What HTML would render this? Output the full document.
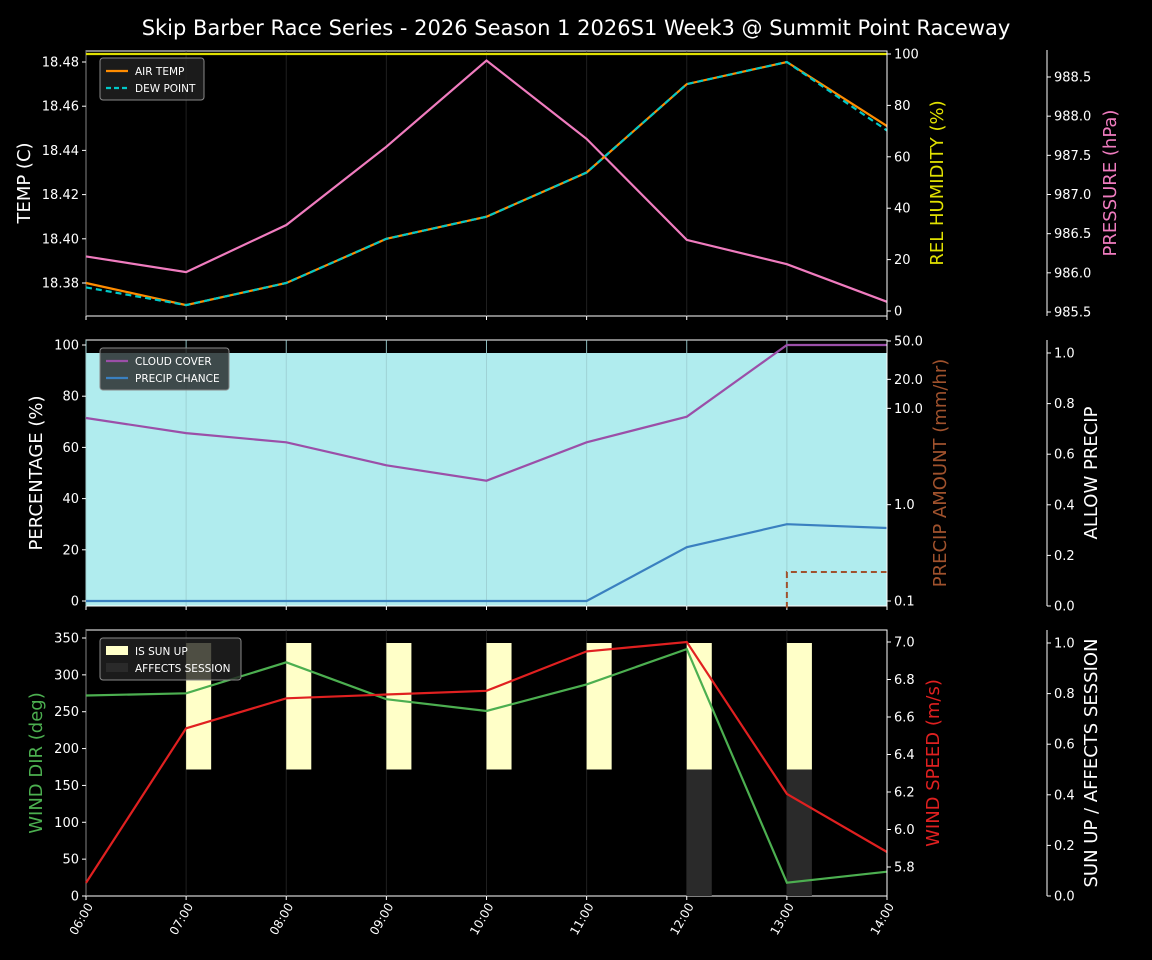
<!DOCTYPE html>
<html><head><meta charset="utf-8"><style>
body{margin:0;background:#000;}
svg{display:block;font-family:"DejaVu Sans","Liberation Sans",sans-serif;}
</style></head><body>
<svg id="c" width="1152" height="960" viewBox="0 0 1152 960"></svg>
<script>
const hours=["06:00","07:00","08:00","09:00","10:00","11:00","12:00","13:00","14:00"];
const airTemp=[18.38,18.37,18.38,18.40,18.41,18.43,18.47,18.48,18.451];
const dewPoint=[18.378,18.37,18.38,18.40,18.41,18.43,18.47,18.48,18.449];
const humidity=[100,100,100,100,100,100,100,100,100];
const pressure=[986.21,986.01,986.61,987.61,988.71,987.71,986.42,986.11,985.63];
const cloudCover=[71.5,65.6,62,53,47,62,72,100,100];
const precipChance=[0,0,0,0,0,0,21,30,28.5];
const precipAmount=[0,0,0,0,0,0,0,0.2,0.2];
const allowPrecip=[1,1,1,1,1,1,1,1,1];
const windDir=[272,275,317,267,251,287,335,18,33];
const windSpeed=[5.715,6.54,6.70,6.72,6.74,6.95,7.0,6.19,5.88];
const sunUp=[0,1,1,1,1,1,1,1,0];
const affects=[0,0,0,0,0,0,1,1,0];
const tempTicks=[18.38,18.40,18.42,18.44,18.46,18.48];
const humTicks=[0,20,40,60,80,100];
const presTicks=[985.5,986.0,986.5,987.0,987.5,988.0,988.5];
const pctTicks=[0,20,40,60,80,100];
const amtTicks=[0.1,1.0,10.0,20.0,50.0];
const unitTicks=[0,0.2,0.4,0.6,0.8,1.0];
const dirTicks=[0,50,100,150,200,250,300,350];
const spdTicks=[5.8,6.0,6.2,6.4,6.6,6.8,7.0];

const S=document.getElementById('c');const NS='http://www.w3.org/2000/svg';
function el(t,a,p){const e=document.createElementNS(NS,t);for(const k in a)e.setAttribute(k,a[k]);(p||S).appendChild(e);return e;}
function txt(x,y,s,a){const e=el('text',Object.assign({x:x,y:y,fill:'#fff','font-size':13},a));e.textContent=s;return e;}
const X0=86,X1=887;const x=i=>X0+(X1-X0)*i/(hours.length-1);
function lin(d0,d1,p0,p1){return v=>p0+(v-d0)*(p1-p0)/(d1-d0);}
function logs(d0,d1,p0,p1){return v=>p0+(Math.log10(v)-Math.log10(d0))*(p1-p0)/(Math.log10(d1)-Math.log10(d0));}
function line(vals,sc,color,name,dash,w){let d='';vals.forEach((v,i)=>{d+=(i?'L':'M')+x(i).toFixed(1)+','+sc(v).toFixed(1);});
 const p=el('path',{d:d,fill:'none',stroke:color,'stroke-width':w||2.2});if(dash)p.setAttribute('stroke-dasharray',dash);
 return p;}
function axisL(ticks,sc,fmt,xa){ticks.forEach(t=>{const y=sc(t);el('line',{x1:xa-4,x2:xa,y1:y,y2:y,stroke:'#fff'});txt(xa-7,y+4.5,fmt(t),{'text-anchor':'end'});});}
function axisR(ticks,sc,fmt,xa,top,bot){el('line',{x1:xa,x2:xa,y1:top,y2:bot,stroke:'#fff'});ticks.forEach(t=>{const y=sc(t);el('line',{x1:xa,x2:xa+4,y1:y,y2:y,stroke:'#fff'});txt(xa+7,y+4.5,fmt(t),{});});}
function vlabel(xp,yp,s,color,name){const e=txt(xp,yp,s,{fill:color,'font-size':18,'text-anchor':'middle',transform:'rotate(-90 '+xp+' '+yp+')'});}
function frame(top,bot,gc,go){el('rect',{x:X0,y:top,width:X1-X0,height:bot-top,fill:'none',stroke:'#fff','stroke-width':1});
 hours.forEach((h,i)=>{el('line',{x1:x(i),x2:x(i),y1:top,y2:bot,stroke:gc||'#333','stroke-opacity':go||0.6});el('line',{x1:x(i),x2:x(i),y1:bot,y2:bot+4,stroke:'#fff'});});}
function legend(xp,yp,w,items,name){const g=el('g',{});
 el('rect',{x:xp,y:yp,width:w,height:items.length*17+8,rx:3,fill:'#222','fill-opacity':0.8,stroke:'#888'},g);
 items.forEach((it,k)=>{const yy=yp+13+k*17;if(it.box)el('rect',{x:xp+6,y:yy-5,width:22,height:9,fill:it.c},g);else{const l=el('line',{x1:xp+6,x2:xp+28,y1:yy,y2:yy,stroke:it.c,'stroke-width':2.2},g);if(it.dash)l.setAttribute('stroke-dasharray','5,3');}
 const t=el('text',{x:xp+35,y:yy+4,fill:'#fff','font-size':10.5},g);t.textContent=it.t;});}

txt(576,35,'Skip Barber Race Series - 2026 Season 1 2026S1 Week3 @ Summit Point Raceway',{'text-anchor':'middle','font-size':21});

// Panel 1
let T=51,B=316;
const yT=lin(18.38,18.48,283,62),yH=lin(0,100,311,54),yP=lin(985.5,988.5,312,77);
frame(T,B);
line(humidity,yH,'#e0e000','humidity-line');
line(pressure,yP,'#f07cbf','pressure-line');
line(airTemp,yT,'#ff8c00','air-temp-line');
line(dewPoint,yT,'#00c8c8','dew-point-line','6,4');
axisL(tempTicks,yT,v=>v.toFixed(2),X0);
axisR(humTicks,yH,v=>v,X1,T,B);
axisR(presTicks,yP,v=>v.toFixed(1),1047,50,316);
vlabel(30,183,'TEMP (C)','#fff','temp-axis-title');vlabel(943,183,'REL HUMIDITY (%)','#e0e000','humidity-axis-title');vlabel(1116,183,'PRESSURE (hPa)','#f07cbf','pressure-axis-title');
legend(100,58,104,[{t:'AIR TEMP',c:'#ff8c00'},{t:'DEW POINT',c:'#00c8c8',dash:1}],'legend-temp');

// Panel 2
T=340;B=606;
const yPc=lin(0,100,601,345),yA=logs(0.1,50,601,341),yU=lin(0,1,606,353);
let d='M'+x(0)+','+B;allowPrecip.forEach((v,i)=>{d+='L'+x(i)+','+yU(v);});d+='L'+x(hours.length-1)+','+B+'Z';
const f=el('path',{d:d,fill:'#b0ecee'});
frame(T,B,'#9ccfd2',0.9);
let ad='';precipAmount.forEach((v,i)=>{if(i===0)return;const prev=precipAmount[i-1];if(v>0){const y0=prev>0?yA(prev):B+2;ad+='M'+x(i)+','+y0+'L'+x(i)+','+yA(v);}if(v>0&&i<precipAmount.length-1){ad+='L'+x(i+1)+','+yA(v);}});
const ap=el('path',{d:ad,fill:'none',stroke:'#a0522d','stroke-width':2,'stroke-dasharray':'6,4'});
line(cloudCover,yPc,'#9b4fa8','cloud-cover-line');
line(precipChance,yPc,'#3a80c0','precip-chance-line');
axisL(pctTicks,yPc,v=>v,X0);
axisR(amtTicks,yA,v=>v.toFixed(1),X1,T,B);
axisR(unitTicks,yU,v=>v.toFixed(1),1047,340,606);
vlabel(42,473,'PERCENTAGE (%)','#fff','percentage-axis-title');vlabel(946,473,'PRECIP AMOUNT (mm/hr)','#a0522d','precip-amount-axis-title');vlabel(1097,473,'ALLOW PRECIP','#fff','allow-precip-axis-title');
legend(100,348,129,[{t:'CLOUD COVER',c:'#9b4fa8'},{t:'PRECIP CHANCE',c:'#3a80c0'}],'legend-clouds');

// Panel 3
T=630;B=896;
const yD=lin(0,350,896,638),yS=lin(5.8,7.0,867,642),yB=lin(0,1,896,643);
frame(T,B);
const bw=(X1-X0)/(hours.length-1)*0.25;
sunUp.forEach((v,i)=>{if(v>0){const r=el('rect',{x:x(i),y:yB(0.5+v*0.5),width:bw,height:yB(0.5)-yB(0.5+v*0.5),fill:'#ffffc8'});}});
affects.forEach((v,i)=>{if(v>0){const r=el('rect',{x:x(i),y:yB(v*0.5),width:bw,height:yB(0)-yB(v*0.5),fill:'#2a2a2a'});}});
line(windDir,yD,'#4caf50','wind-dir-line');
line(windSpeed,yS,'#e02020','wind-speed-line');
axisL(dirTicks,yD,v=>v,X0);
axisR(spdTicks,yS,v=>v.toFixed(1),X1,T,B);
axisR(unitTicks,yB,v=>v.toFixed(1),1047,630,896);
vlabel(42,763,'WIND DIR (deg)','#4caf50','wind-dir-axis-title');vlabel(939,763,'WIND SPEED (m/s)','#e02020','wind-speed-axis-title');vlabel(1097,763,'SUN UP / AFFECTS SESSION','#fff','sun-axis-title');
legend(100,638,141,[{t:'IS SUN UP',c:'#ffffc8',box:1},{t:'AFFECTS SESSION',c:'#2a2a2a',box:1}],'legend-sun');
hours.forEach((h,i)=>{const xx=x(i)+4,yy=904;const t=txt(xx,yy+4,h,{'text-anchor':'end','font-size':12,transform:'rotate(-60 '+xx+' '+yy+')'});});
</script>
</body></html>
